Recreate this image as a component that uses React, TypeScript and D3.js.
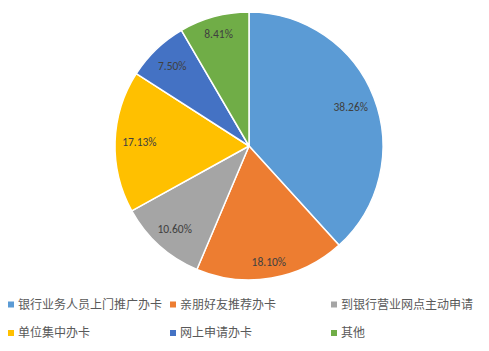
import { useEffect, useRef } from "react";
import * as d3 from "d3";

const categories = [
  "银行业务人员上门推广办卡",
  "亲朋好友推荐办卡",
  "到银行营业网点主动申请",
  "单位集中办卡",
  "网上申请办卡",
  "其他",
];
const shares = [38.26, 18.1, 10.6, 17.13, 7.5, 8.41];
const colors = ["#5B9BD5", "#ED7D31", "#A5A5A5", "#FFC000", "#4472C4", "#70AD47"];

const App = () => {
  const svgRef = useRef<SVGSVGElement>(null);

  useEffect(() => {
    const width = 489;
    const height = 351;
    const cx = 249;
    const cy = 146;
    const radius = 134;

    const svg = d3.select(svgRef.current);
    svg.selectAll("*").remove();

    const data = categories.map((name, i) => ({ name, value: shares[i], color: colors[i] }));

    const pie = d3
      .pie<{ name: string; value: number; color: string }>()
      .sort(null)
      .value((d) => d.value);
    const arcs = pie(data);
    const arc = d3
      .arc<d3.PieArcDatum<{ name: string; value: number; color: string }>>()
      .innerRadius(0)
      .outerRadius(radius);

    const g = svg.append("g").attr("transform", `translate(${cx},${cy})`);

    g.selectAll("path")
      .data(arcs)
      .enter()
      .append("path")
      .attr("d", arc)
      .attr("fill", (d) => d.data.color)
      .attr("stroke", "#fff")
      .attr("stroke-width", 1.5)
      .attr("stroke-linejoin", "round");

    // labels placed at "inside end"
    const labelW = 36;
    const labelH = 12;
    const R = radius - 6;
    g.selectAll("text.lbl")
      .data(arcs)
      .enter()
      .append("text")
      .attr("class", "lbl")
      .attr("transform", (d) => {
        const a = (d.startAngle + d.endAngle) / 2;
        const ux = Math.sin(a);
        const uy = -Math.cos(a);
        const vx = Math.sign(ux) * (labelW / 2);
        const vy = Math.sign(uy) * (labelH / 2);
        const uv = ux * vx + uy * vy;
        const dist = -uv + Math.sqrt(uv * uv - (vx * vx + vy * vy) + R * R);
        return `translate(${ux * dist},${uy * dist})`;
      })
      .attr("text-anchor", "middle")
      .attr("dy", "0.35em")
      .attr("font-family", "Carlito, 'Liberation Sans', Arial, sans-serif")
      .attr("font-size", 11.5)
      .attr("fill", "#404040")
      .text((d) => `${d.data.value.toFixed(2)}%`);

    // legend
    const colX = [8, 170, 331];
    const rowY = [304.5, 333];
    const legend = svg
      .append("g")
      .selectAll("g")
      .data(data)
      .enter()
      .append("g")
      .attr("transform", (_d, i) => `translate(${colX[i % 3]},${rowY[Math.floor(i / 3)]})`);

    legend
      .append("rect")
      .attr("x", 0)
      .attr("y", -3)
      .attr("width", 6)
      .attr("height", 6)
      .attr("fill", (d) => d.color);

    legend
      .append("text")
      .attr("x", 10)
      .attr("dy", "0.35em")
      .attr("font-family", "'Noto Sans CJK SC', sans-serif")
      .attr("font-size", 12)
      .attr("fill", "#595959")
      .text((d) => d.name);

    svg.attr("width", width).attr("height", height);
  }, []);

  return (
    <svg
      ref={svgRef}
      width={489}
      height={351}
      style={{ position: "absolute", left: 0, top: 0, background: "#fff" }}
    />
  );
};

export default App;
